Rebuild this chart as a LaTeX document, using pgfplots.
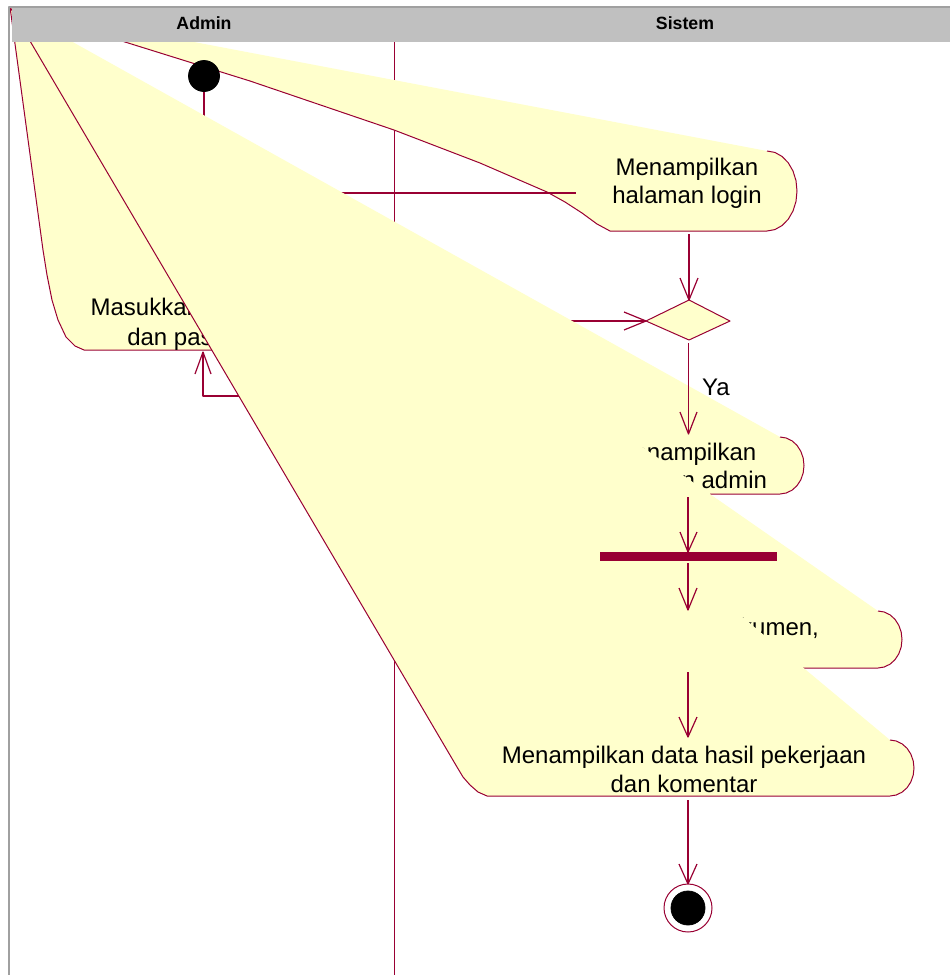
\documentclass[border=0pt]{standalone}
\usepackage{pgfplots}
\pgfplotsset{compat=1.18}
\usepackage{fontspec}
\setmainfont{Liberation Sans}
\definecolor{yel}{HTML}{FFFFCC}
\definecolor{mar}{HTML}{990033}
\definecolor{hdr}{HTML}{C0C0C0}
\definecolor{frm}{HTML}{A0A0A0}
\newcommand{\tf}{\fontsize{12}{14.5}\selectfont}
\begin{document}
\begin{tikzpicture}
\begin{axis}[width=475pt,height=487.5pt,scale only axis,
  xmin=0,xmax=950,ymin=0,ymax=975,y dir=reverse,hide axis,clip=true,
  every axis plot/.append style={line join=round}]
% background
\addplot[fill=white,draw=none] coordinates {(0,0)(950,0)(950,975)(0,975)};
% swimlane divider
\addplot[mar,line width=0.9pt] coordinates {(394.5,42)(394.5,975)};
% initial node and its flow
\addplot[mar,line width=0.6pt] coordinates {(204,90)(204,200)};
\addplot[only marks,mark=*,mark size=7.75pt,mark options={fill=black,draw=black}] coordinates {(204,76)};
% --- activity A
\addplot[fill=yel,draw=none] coordinates {(10,7)(43,250)(47,275)(52,300)(58,320)(66,337)(75,346)(84,350)(340,350)(340,300)};
\addplot[mar,line width=0.5pt] coordinates {(10,7)(43,250)(47,275)(52,300)(58,320)(66,337)(75,346)(84,350)(340,350)};
\node[anchor=base,font=\tf] at (axis cs:202,315) {Masukkan username};
\node[anchor=base,font=\tf] at (axis cs:202,345) {dan password};
% loop back into A
\addplot[mar,line width=0.6pt] coordinates {(300,396)(203,396)(203,352)};
\addplot[mar,line width=0.6pt] coordinates {(195,374)(203,352)(211,374)};
% --- activity B
\addplot[fill=yel,draw=none] coordinates {(10,7)(767,151)(774.8,152.4)(782,156.4)(788.2,162.7)(793,171)(796,180.6)(797,191)(796,201.4)(793,211)(788.2,219.3)(782,225.6)(774.8,229.6)(767,231)(610,231)(597,224)(582,213)(565,202)(547,192)(480,163)(394,130)(250,81)(125,42)};
\addplot[mar,line width=0.5pt] coordinates {(10,7)(125,42)(250,81)(394,130)(480,163)(547,192)(565,202)(582,213)(597,224)(610,231)(767,231)(774.8,229.6)(782,225.6)(788.2,219.3)(793,211)(796,201.4)(797,191)(796,180.6)(793,171)(788.2,162.7)(782,156.4)(774.8,152.4)(767,151)};
\node[anchor=base,font=\tf] at (axis cs:687,175) {Menampilkan};
\node[anchor=base,font=\tf] at (axis cs:687,203) {halaman login};
% flows partly hidden by later shapes
\addplot[mar,line width=0.6pt] coordinates {(300,193)(576,193)};
\addplot[mar,line width=0.6pt] coordinates {(500,321)(646,321)};
\addplot[mar,line width=0.6pt] coordinates {(624,312)(646,321)(624,330)};
% --- activity C
\addplot[fill=yel,draw=none] coordinates {(10,7)(780,437)(786.2,438)(792,440.8)(797,445.3)(800.8,451.3)(803.2,458.1)(804,465.5)(803.2,472.9)(800.8,479.8)(797,485.7)(792,490.2)(786.2,493)(780,494)(710,494)(650,480)(300,300)};
\addplot[mar,line width=0.5pt] coordinates {(710,494)(780,494)(786.2,493)(792,490.2)(797,485.7)(800.8,479.8)(803.2,472.9)(804,465.5)(803.2,458.1)(800.8,451.3)(797,445.3)(792,440.8)(786.2,438)(780,437)};
\node[anchor=base,font=\tf] at (axis cs:685,460) {Menampilkan};
\node[anchor=base,font=\tf] at (axis cs:685,488) {halaman admin};
% --- activity D
\addplot[fill=yel,draw=none] coordinates {(10,7)(878,611)(884.2,612)(890,614.8)(895,619.3)(898.8,625.3)(901.2,632.1)(902,639.5)(901.2,646.9)(898.8,653.8)(895,659.7)(890,664.2)(884.2,667)(878,668)(803,668)(760,650)(400,400)};
\addplot[mar,line width=0.5pt] coordinates {(803,668)(878,668)(884.2,667)(890,664.2)(895,659.7)(898.8,653.8)(901.2,646.9)(902,639.5)(901.2,632.1)(898.8,625.3)(895,619.3)(890,614.8)(884.2,612)(878,611)};
\node[anchor=base east,font=\tf] at (axis cs:826,635) {Menampilkan dokumen,};
% --- activity E
\addplot[fill=yel,draw=none] coordinates {(10,7)(890,740)(896.2,741)(902,743.8)(907,748.2)(910.8,754)(913.2,760.8)(914,768)(913.2,775.2)(910.8,782)(907,787.8)(902,792.2)(896.2,795)(890,796)(487,796)(478,792)(470,785)(463,777)(457,767)};
\addplot[mar,line width=0.5pt] coordinates {(10,7)(457,767)(463,777)(470,785)(478,792)(487,796)(890,796)(896.2,795)(902,792.2)(907,787.8)(910.8,782)(913.2,775.2)(914,768)(913.2,760.8)(910.8,754)(907,748.2)(902,743.8)(896.2,741)(890,740)};
\node[anchor=base,font=\tf] at (axis cs:684,763) {Menampilkan data hasil pekerjaan};
\node[anchor=base,font=\tf] at (axis cs:684,792) {dan komentar};
% --- header and frame
\addplot[fill=hdr,draw=none] coordinates {(12,7)(950,7)(950,42)(12,42)};
\addplot[frm,line width=1pt] coordinates {(9,975)(9,7)(950,7)};
\node[anchor=base,font=\fontsize{8.85}{10}\selectfont\bfseries] at (axis cs:204,29.3) {Admin};
\node[anchor=base,font=\fontsize{8.85}{10}\selectfont\bfseries] at (axis cs:685,29.3) {Sistem};
% --- decision
\addplot[fill=yel,draw=none] coordinates {(646,321)(689,300)(730,321)(689,340)};
\addplot[mar,line width=0.5pt] coordinates {(646,321)(689,300)(730,321)(689,340)(646,321)};
% --- vertical flows
\addplot[mar,line width=0.6pt] coordinates {(689,234)(689,300)};
\addplot[mar,line width=0.6pt] coordinates {(680,278)(689,300)(698,278)};
\addplot[mar,line width=0.6pt] coordinates {(688.5,343)(688.5,434)};
\addplot[mar,line width=0.6pt] coordinates {(680,412)(688.5,434)(697,412)};
\node[anchor=base,font=\tf] at (axis cs:716,395) {Ya};
\addplot[mar,line width=0.6pt] coordinates {(688,497)(688,552)};
\addplot[mar,line width=0.6pt] coordinates {(680,532)(688,552)(697,532)};
\addplot[fill=mar,draw=none] coordinates {(600,552)(777,552)(777,561)(600,561)};
\addplot[mar,line width=0.6pt] coordinates {(688,563)(688,610)};
\addplot[mar,line width=0.6pt] coordinates {(679,588)(688,610)(697,588)};
\addplot[mar,line width=0.6pt] coordinates {(688,672)(688,737)};
\addplot[mar,line width=0.6pt] coordinates {(679,717)(688,737)(697,717)};
\addplot[mar,line width=0.6pt] coordinates {(688,800)(688,884)};
\addplot[mar,line width=0.6pt] coordinates {(679,864)(688,884)(697,864)};
% --- final node
\addplot[only marks,mark=*,mark size=12pt,mark options={fill=white,draw=mar,line width=0.5pt}] coordinates {(688,908)};
\addplot[only marks,mark=*,mark size=8.5pt,mark options={fill=black,draw=black}] coordinates {(688,908)};
\end{axis}
\end{tikzpicture}
\end{document}
